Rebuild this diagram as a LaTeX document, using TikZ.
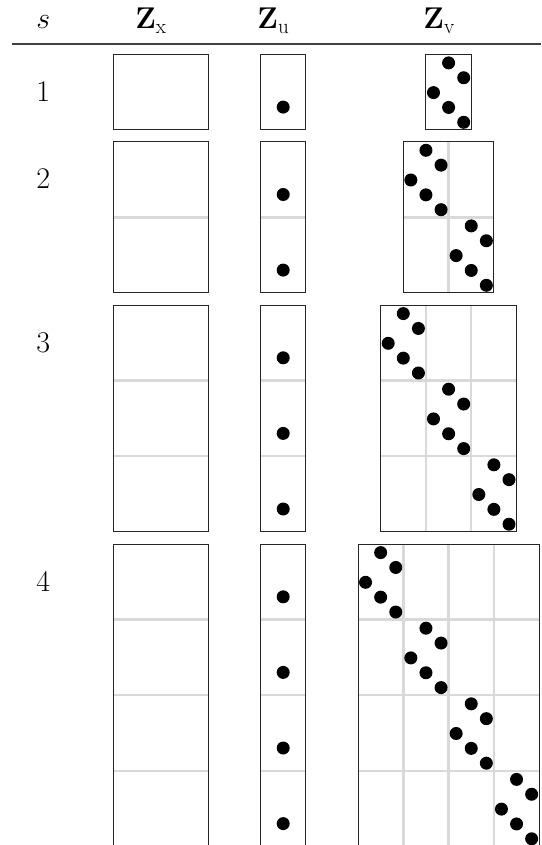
\RequirePackage{fix-cm}
\documentclass[tikz,border=0pt]{standalone}
\usepackage{amsmath}
\begin{document}
\begin{tikzpicture}[x=1pt,y=-1pt,
  frame/.style={draw=black!85,line width=1pt},
  gridline/.style={draw=black!15,line width=2.4pt},
  dotfill/.style={fill=black},
  lbl/.style={anchor=base,inner sep=0pt,font=\fontsize{30}{36}\selectfont},
  rulestyle/.style={draw=black!75,line width=1.5pt}]
\useasboundingbox (0,0) rectangle (541,845);
\clip (0,0) rectangle (541,845);
% header
\node[lbl] (hs) at (43.3,29) {$s$};
\node[lbl] (hx) at (151,29) {$\mathbf{Z}_{\mathrm{x}}$};
\node[lbl] (hu) at (273.3,29) {$\mathbf{Z}_{\mathrm{u}}$};
\node[lbl] (hv) at (439.2,29) {$\mathbf{Z}_{\mathrm{v}}$};
\coordinate (rl) at (12,44);
\coordinate (rr) at (541,44);
\draw[rulestyle] (rl) -- (rr);
% rows
\foreach \n/\t in {1/54.3, 2/141.7, 3/305, 4/544} {
  \pgfmathsetmacro\H{\n*75.6}
  \pgfmathsetmacro\B{\t+\H}
  \pgfmathsetmacro\L{448.6-\n*22.65}
  \pgfmathsetmacro\R{448.6+\n*22.65}
  \node[lbl] (row\n) at (43.3,\t+47) {$\n$};
  % grid lines
  \foreach \j in {1,...,\n} {
    \ifnum\j<\n
      \pgfmathsetmacro\yy{\t+\j*75.6}
      \pgfmathsetmacro\xx{\L+\j*45.3}
      \draw[gridline] (113.3,\yy) -- (208.3,\yy);
      \draw[gridline] (260.7,\yy) -- (305.7,\yy);
      \draw[gridline] (\L,\yy) -- (\R,\yy);
      \draw[gridline] (\xx,\t) -- (\xx,\B);
    \fi
  }
  % frames
  \draw[frame] (113.3,\t) rectangle (208.3,\B);
  \draw[frame] (260.7,\t) rectangle (305.7,\B);
  \draw[frame] (\L,\t) rectangle (\R,\B);
  % dots
  \foreach \j in {1,...,\n} {
    \pgfmathsetmacro\bt{\t+(\j-1)*75.6}
    \pgfmathsetmacro\bl{\L+(\j-1)*45.3}
    \fill[dotfill] (283.2,\bt+52.8) circle (6.5);
    \fill[dotfill] (\bl+22.65,\bt+8.6) circle (6.5);
    \fill[dotfill] (\bl+37.75,\bt+23.45) circle (6.5);
    \fill[dotfill] (\bl+7.55,\bt+38.3) circle (6.5);
    \fill[dotfill] (\bl+22.65,\bt+53.15) circle (6.5);
    \fill[dotfill] (\bl+37.75,\bt+68) circle (6.5);
  }
}
\end{tikzpicture}
\end{document}
